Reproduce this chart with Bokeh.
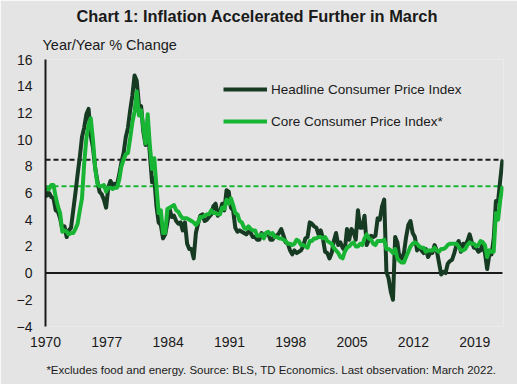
from bokeh.plotting import figure
from bokeh.models import Range1d, FixedTicker, Legend, LegendItem, Title
from bokeh.embed import file_html
from bokeh.resources import INLINE

# ---------------- data (year/year % change, quarterly: Mar/Jun/Sep/Dec) -------------
first_year = 1970
last_year = 2022
last_month = 3

headline = [
    6.2,                      # Jan 1970
    5.8, 6.0, 5.7, 5.6,       # 1970
    4.7, 4.6, 4.1, 3.3,       # 1971
    3.5, 2.7, 3.2, 3.4,       # 1972
    4.7, 6.0, 7.4, 8.7,       # 1973
    10.2, 10.9, 11.9, 12.3,   # 1974
    10.3, 9.4, 7.9, 6.9,      # 1975
    6.1, 5.9, 5.5, 4.9,       # 1976
    6.4, 6.9, 6.6, 6.7,       # 1977
    6.6, 7.4, 8.3, 9.0,       # 1978
    10.2, 10.9, 12.2, 13.3,   # 1979
    14.8, 14.4, 12.6, 12.5,   # 1980
    10.6, 9.6, 11.0, 8.9,     # 1981
    6.8, 7.1, 5.0, 3.8,       # 1982
    3.6, 2.6, 2.9, 3.8,       # 1983
    4.8, 4.2, 4.3, 3.9,       # 1984
    3.7, 3.8, 3.2, 3.8,       # 1985
    2.2, 1.8, 1.8, 1.1,       # 1986
    3.0, 3.7, 4.3, 4.4,       # 1987
    3.9, 4.0, 4.2, 4.4,       # 1988
    5.0, 5.2, 4.3, 4.6,       # 1989
    5.2, 4.7, 6.2, 6.1,       # 1990
    4.9, 4.7, 3.4, 3.1,       # 1991
    3.2, 3.1, 3.0, 2.9,       # 1992
    3.1, 3.0, 2.7, 2.7,       # 1993
    2.5, 2.5, 3.0, 2.7,       # 1994
    2.9, 3.0, 2.5, 2.5,       # 1995
    2.8, 2.8, 3.0, 3.3,       # 1996
    2.8, 2.3, 2.2, 1.7,       # 1997
    1.4, 1.7, 1.5, 1.6,       # 1998
    1.7, 2.0, 2.6, 2.7,       # 1999
    3.8, 3.7, 3.5, 3.4,       # 2000
    2.9, 3.2, 2.6, 1.6,       # 2001
    1.5, 1.1, 1.5, 2.4,       # 2002
    3.0, 2.1, 2.3, 1.9,       # 2003
    1.7, 3.3, 2.5, 3.3,       # 2004
    3.1, 2.5, 4.7, 3.4,       # 2005
    3.4, 4.3, 2.1, 2.5,       # 2006
    2.8, 2.7, 2.8, 4.1,       # 2007
    4.0, 5.0, 5.5, 0.1,       # 2008
    -0.4, -1.4, -2.0, 2.7,    # 2009
    2.3, 1.1, 1.1, 1.5,       # 2010
    2.7, 3.6, 3.9, 3.0,       # 2011
    2.7, 1.7, 2.0, 1.7,       # 2012
    1.5, 1.8, 1.2, 1.5,       # 2013
    1.5, 2.1, 1.7, 0.8,       # 2014
    -0.1, 0.1, 0.0, 0.7,      # 2015
    0.9, 1.0, 1.5, 2.1,       # 2016
    2.4, 1.6, 2.2, 2.1,       # 2017
    2.4, 2.9, 2.3, 1.9,       # 2018
    1.9, 1.6, 1.7, 2.3,       # 2019
    1.5, 0.3, 1.4, 1.4,       # 2020
    2.6, 5.4, 5.4, 7.0,       # 2021
    8.5,                      # Mar 2022
]

core = [
    6.2,                      # Jan 1970
    6.3, 6.3, 6.6, 6.6,       # 1970
    5.7, 5.0, 4.5, 3.1,       # 1971
    3.2, 3.1, 2.9, 3.0,       # 1972
    3.0, 3.3, 3.7, 4.7,       # 1973
    5.6, 8.2, 10.1, 11.1,     # 1974
    11.6, 10.0, 7.9, 6.7,     # 1975
    6.5, 6.5, 6.6, 6.1,       # 1976
    6.4, 6.4, 6.3, 6.4,       # 1977
    6.4, 7.0, 8.0, 8.5,       # 1978
    8.9, 9.0, 10.1, 11.3,     # 1979
    12.1, 13.6, 11.8, 12.2,   # 1980
    10.9, 9.7, 11.9, 9.5,     # 1981
    7.8, 8.6, 6.5, 4.5,       # 1982
    4.7, 3.0, 3.0, 4.8,       # 1983
    4.9, 5.0, 5.1, 4.7,       # 1984
    4.6, 4.3, 4.1, 4.1,       # 1985
    4.1, 4.0, 3.9, 3.8,       # 1986
    3.6, 3.8, 4.2, 4.2,       # 1987
    4.3, 4.4, 4.4, 4.7,       # 1988
    4.5, 4.5, 4.4, 4.4,       # 1989
    4.9, 4.8, 5.5, 5.2,       # 1990
    5.6, 5.1, 4.5, 4.4,       # 1991
    3.9, 3.8, 3.4, 3.3,       # 1992
    3.5, 3.3, 3.2, 3.2,       # 1993
    2.8, 2.8, 2.9, 2.6,       # 1994
    3.0, 3.1, 2.9, 3.0,       # 1995
    2.7, 2.7, 2.6, 2.6,       # 1996
    2.5, 2.4, 2.2, 2.2,       # 1997
    2.1, 2.2, 2.5, 2.4,       # 1998
    2.1, 2.1, 2.0, 1.9,       # 1999
    2.4, 2.4, 2.6, 2.6,       # 2000
    2.7, 2.7, 2.6, 2.7,       # 2001
    2.4, 2.3, 2.2, 1.9,       # 2002
    1.7, 1.5, 1.2, 1.1,       # 2003
    1.6, 1.9, 2.0, 2.2,       # 2004
    2.3, 2.0, 2.0, 2.2,       # 2005
    2.1, 2.6, 2.9, 2.6,       # 2006
    2.5, 2.2, 2.1, 2.4,       # 2007
    2.4, 2.4, 2.5, 1.8,       # 2008
    1.8, 1.7, 1.5, 1.8,       # 2009
    1.1, 0.9, 0.8, 0.8,       # 2010
    1.2, 1.6, 2.0, 2.2,       # 2011
    2.3, 2.2, 2.0, 1.9,       # 2012
    1.9, 1.6, 1.7, 1.7,       # 2013
    1.7, 1.9, 1.7, 1.6,       # 2014
    1.8, 1.8, 1.9, 2.1,       # 2015
    2.2, 2.2, 2.2, 2.2,       # 2016
    2.0, 1.7, 1.7, 1.8,       # 2017
    2.1, 2.3, 2.2, 2.2,       # 2018
    2.0, 2.1, 2.4, 2.3,       # 2019
    2.1, 1.2, 1.7, 1.6,       # 2020
    1.6, 4.5, 4.0, 5.5,       # 2021
    6.5,                      # Mar 2022
]

x_ticks = [1970, 1977, 1984, 1991, 1998, 2005, 2012, 2019]
y_ticks = [-4, -2, 0, 2, 4, 6, 8, 10, 12, 14, 16]

title_text = "Chart 1: Inflation Accelerated Further in March"
unit_text = "Year/Year % Change"
footer_text = "*Excludes  food and energy. Source: BLS, TD Economics.  Last observation: March 2022."
series_names = ["Headline Consumer Price Index", "Core Consumer Price Index*"]

# dates (decimal years): Jan 1970, then quarter-end months through Mar 2022
dates = [first_year + 0.0]
for yr in range(first_year, last_year + 1):
    for m in (3, 6, 9, 12):
        if yr == last_year and m > last_month:
            break
        dates.append(yr + (m - 1) / 12.0)

# ---------------- styling ----------------
BG = "#E4E4E4"
DARK = "#173A23"
BRIGHT = "#18B534"
INK = "#1A1A1A"
FONT = "Liberation Sans"

W, H = 517, 384
ML, MR, MT, MB = 45, 14, 59, 58
x0, y0, y1 = 1970, -4, 16
px_per_year = 8.76
x1 = x0 + (W - ML - MR) / px_per_year

p = figure(width=W, height=H, output_backend="svg", toolbar_location=None,
           x_range=Range1d(x0, x1), y_range=Range1d(y0, y1),
           min_border_left=ML, min_border_right=MR,
           min_border_top=MT, min_border_bottom=MB)
p.background_fill_color = BG
p.border_fill_color = BG
p.outline_line_color = None
p.xgrid.visible = False
p.ygrid.visible = False

# axes
p.xaxis.ticker = FixedTicker(ticks=x_ticks)
p.xaxis.axis_line_color = None
p.xaxis.major_tick_line_color = None
p.xaxis.minor_tick_line_color = None
p.xaxis.major_label_standoff = 4
p.xaxis.major_label_text_font = FONT
p.xaxis.major_label_text_font_size = "14px"
p.xaxis.major_label_text_color = INK
# footnote carried as the x-axis label
p.xaxis.axis_label = footer_text
p.xaxis.axis_label_standoff = 14
p.xaxis.axis_label_text_font = FONT
p.xaxis.axis_label_text_font_size = "11.5px"
p.xaxis.axis_label_text_font_style = "normal"
p.xaxis.axis_label_text_color = INK

p.yaxis.ticker = FixedTicker(ticks=y_ticks)
p.yaxis.axis_line_color = INK
p.yaxis.axis_line_width = 2
p.yaxis.major_tick_line_color = None
p.yaxis.minor_tick_line_color = None
p.yaxis.major_label_standoff = 7
p.yaxis.major_label_text_font = FONT
p.yaxis.major_label_text_font_size = "14px"
p.yaxis.major_label_text_color = INK

# reference lines at latest readings
p.line([dates[0], dates[-1]], [headline[-1], headline[-1]], line_color=INK,
       line_width=2, line_dash="5 3")
p.line([dates[0], dates[-1]], [core[-1], core[-1]], line_color=BRIGHT,
       line_width=2, line_dash="5 3")
# zero line
p.line([dates[0], dates[-1]], [0, 0], line_color=INK, line_width=2)

r_head = p.line(dates, headline, line_color=DARK, line_width=4, line_join="round")
r_core = p.line(dates, core, line_color=BRIGHT, line_width=4, line_join="round")

legend = Legend(items=[LegendItem(label=series_names[0], renderers=[r_head]),
                       LegendItem(label=series_names[1], renderers=[r_core])],
                location=(178, 195), background_fill_alpha=0, border_line_color=None,
                padding=0, margin=0, spacing=12, glyph_width=44, glyph_height=20,
                label_height=20, label_standoff=4,
                label_text_font=FONT, label_text_font_size="13.5px",
                label_text_color=INK)
p.add_layout(legend)

# titles: first "above" entry sits closest to the frame
p.add_layout(Title(text=unit_text, align="left", offset=-3, standoff=14,
                   text_font=FONT, text_font_size="14.5px", text_font_style="normal",
                   text_color=INK), "above")
p.add_layout(Title(text=title_text, align="left", offset=31, standoff=5,
                   text_font=FONT, text_font_size="16.4px", text_font_style="bold",
                   text_color=INK), "above")

open("out.html", "w").write(file_html(p, INLINE))
